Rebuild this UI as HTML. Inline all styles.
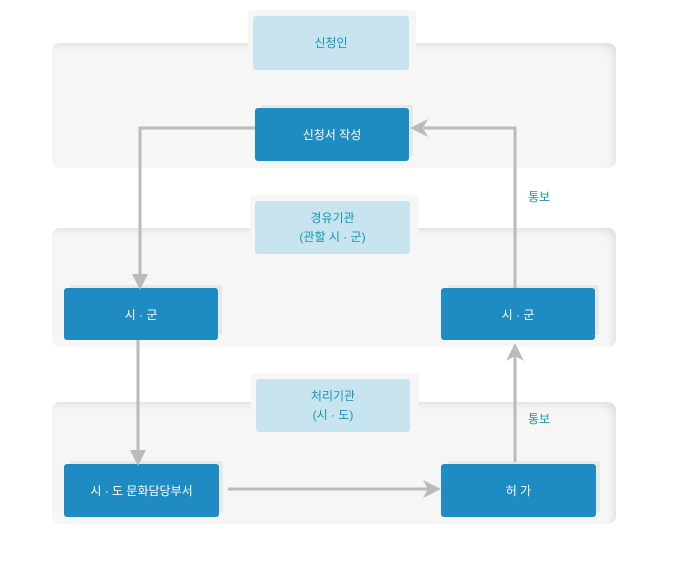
<!DOCTYPE html><html><head><meta charset="utf-8"><style>
body{margin:0;width:680px;height:568px;background:#fff;position:relative;font-family:"Liberation Sans","Noto Sans CJK KR",sans-serif;overflow:hidden}
.p{position:absolute;left:52px;width:564px;background:#f6f6f6;border-radius:8px;box-shadow:inset -6px 6px 8px -4px #ddd}
.tab{position:absolute;background:#f6f6f6;border-radius:4px}
.l{position:absolute;background:#c8e4ef;border-radius:3px;color:#1a93b0;font-size:12px;display:flex;align-items:center;justify-content:center;text-align:center;line-height:19px}
.n{position:absolute;background:#1f8bc3;border-radius:3px;color:#fff;font-size:12px;display:flex;align-items:center;justify-content:center;box-shadow:5px -4px 0 -1px #e8e8e8}
.t{position:absolute;color:#1a93b0;font-size:12px}
svg{position:absolute;left:0;top:0}
</style></head><body>
<div class="p" style="top:43px;height:125px"></div>
<div class="p" style="top:228px;height:119px"></div>
<div class="p" style="top:402px;height:122px"></div>
<div class="tab" style="left:248px;top:10px;width:168px;height:40px"></div>
<div class="tab" style="left:250px;top:195px;width:168px;height:40px"></div>
<div class="tab" style="left:251px;top:373px;width:168px;height:40px"></div>
<div class="l" style="left:253px;top:16px;width:156px;height:54px">신청인</div>
<div class="l" style="left:255px;top:201px;width:155px;height:53px">경유기관<br>(관할 시 · 군)</div>
<div class="l" style="left:256px;top:379px;width:154px;height:53px">처리기관<br>(시 · 도)</div>
<div class="n" style="left:255px;top:108px;width:154px;height:53px">신청서 작성</div>
<div class="n" style="left:64px;top:288px;width:154px;height:52px">시 · 군</div>
<div class="n" style="left:441px;top:288px;width:154px;height:52px">시 · 군</div>
<div class="n" style="left:64px;top:464px;width:155px;height:53px">시 · 도 문화담당부서</div>
<div class="n" style="left:441px;top:464px;width:155px;height:53px">허 가</div>
<div class="t" style="left:528px;top:188px">통보</div>
<div class="t" style="left:528px;top:410px">통보</div>
<svg width="680" height="568"><g stroke="#b9bcbb" stroke-width="3" fill="none">
<polyline points="255,128 140,128 140,276"/>
<polyline points="515,288 515,128 424,128"/>
<line x1="138" y1="340" x2="138" y2="452"/>
<line x1="228" y1="489" x2="430" y2="489"/>
<line x1="515" y1="462" x2="515" y2="356"/>
</g><g fill="#b9bcbb">
<polygon points="132,274 148,274 140,290"/>
<polygon points="410,128 428,119 423,128 428,137"/>
<polygon points="130,450 146,450 138,466"/>
<polygon points="441,489 423,480 428,489 423,498"/>
<polygon points="515,343 506,361 515,356 524,361"/>
</g></svg>
</body></html>
